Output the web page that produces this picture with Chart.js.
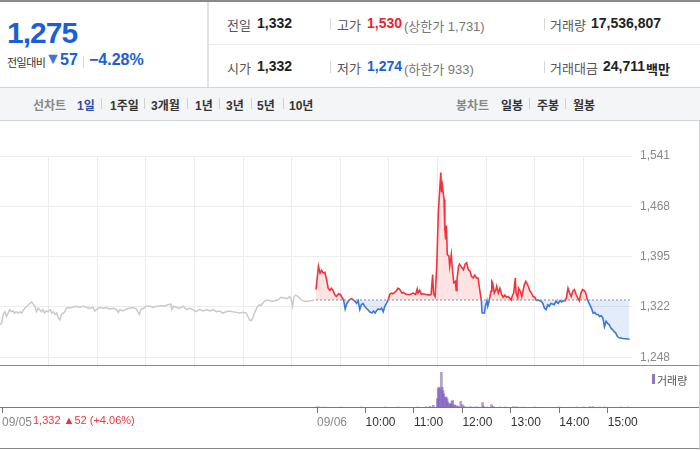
<!DOCTYPE html>
<html lang="ko">
<head>
<meta charset="utf-8">
<script src="https://cdn.jsdelivr.net/npm/chart.js@4.4.1/dist/chart.umd.min.js"></script>
<style>
  body { margin: 0; width: 700px; height: 450px; overflow: hidden; background: #fff;
         font-family: "Liberation Sans", "Noto Sans CJK KR", sans-serif; color: #333; }
  .abs { position: absolute; white-space: nowrap; }
  #topline { left: 0; top: 0; width: 700px; height: 2px; background: #8a8a8a; }
  #vdiv { left: 207px; top: 2px; width: 2px; height: 86px; background: #e2e2e2; }
  #hdiv { left: 209px; top: 44px; width: 491px; height: 1px; background: #ececec; }
  #toolbar { left: 0; top: 87px; width: 700px; height: 32px; background: #f4f5f7;
             border-top: 1px solid #d5d5d5; border-bottom: 1px solid #d5d5d5; }
  .big { font-size: 30px; font-weight: bold; color: #1a5fd9; letter-spacing: -1px; }
  .lbl { font-size: 13px; color: #555; }
  .val { font-size: 14px; font-weight: bold; color: #222; }
  .sub { font-size: 13px; color: #777; }
  .sep { width: 1px; height: 12px; background: #d8d8d8; }
  .tb { font-size: 12px; font-weight: bold; color: #333; }
  .tbg { font-size: 12px; color: #888; font-weight: bold; }
  .tsep { width: 1px; height: 11px; background: #d0d0d0; top: 98px; }
  #priceWrap { left: 0; top: 120px; width: 700px; height: 262px; }
  #volWrap { left: 0; top: 366px; width: 700px; height: 70px; }
  #sep1 { left: 0; top: 365px; width: 700px; height: 1px; background: #8c8c8c; }
  #sep2 { left: 0; top: 407px; width: 700px; height: 1px; background: #777; }
  #bottom { left: 0; top: 448px; width: 700px; height: 1px; background: #888; }
  #rightb { left: 699px; top: 120px; width: 1px; height: 330px; background: #d0d0d0; }
</style>
</head>
<body>
<div class="abs" id="topline"></div>

<!-- current price block -->
<div class="abs big" style="left:7px; top:16px;">1,275</div>
<div class="abs" style="left:7px; top:54px; font-size:11px; color:#333; letter-spacing:-0.5px;">전일대비</div>
<div class="abs" style="left:45px; top:50px; font-size:16px; color:#3d77d6;">▼</div>
<div class="abs" style="left:60px; top:51px; font-size:16px; font-weight:bold; color:#1a5fd9;">57</div>
<div class="abs sep" style="left:83px; top:56px;"></div>
<div class="abs" style="left:89px; top:51px; font-size:16px; font-weight:bold; color:#1a5fd9;">−4.28%</div>
<div class="abs" id="vdiv"></div>
<div class="abs" id="hdiv"></div>

<!-- summary rows -->
<div class="abs lbl" style="left:227px; top:15px;">전일</div>
<div class="abs val" style="left:257px; top:15px;">1,332</div>
<div class="abs sep" style="left:330px; top:18px;"></div>
<div class="abs lbl" style="left:337px; top:15px;">고가</div>
<div class="abs val" style="left:367px; top:15px; color:#f01e2c;">1,530</div>
<div class="abs sub" style="left:404px; top:16px;">(상한가 1,731)</div>
<div class="abs sep" style="left:544px; top:18px;"></div>
<div class="abs lbl" style="left:550px; top:15px;">거래량</div>
<div class="abs val" style="left:591px; top:15px;">17,536,807</div>

<div class="abs lbl" style="left:227px; top:58px;">시가</div>
<div class="abs val" style="left:257px; top:58px;">1,332</div>
<div class="abs sep" style="left:330px; top:61px;"></div>
<div class="abs lbl" style="left:337px; top:58px;">저가</div>
<div class="abs val" style="left:367px; top:58px; color:#1a5fd9;">1,274</div>
<div class="abs sub" style="left:404px; top:59px;">(하한가 933)</div>
<div class="abs sep" style="left:544px; top:61px;"></div>
<div class="abs lbl" style="left:550px; top:58px;">거래대금</div>
<div class="abs val" style="left:603px; top:58px;">24,711</div>
<div class="abs val" style="left:646px; top:59px; font-size:13px;">백만</div>

<!-- toolbar -->
<div class="abs" id="toolbar"></div>
<div class="abs tbg" style="left:33px; top:96px;">선차트</div>
<div class="abs tb" style="left:77px; top:96px; color:#2a4eb0;">1일</div>
<div class="abs tsep" style="left:101px;"></div>
<div class="abs tb" style="left:110px; top:96px;">1주일</div>
<div class="abs tsep" style="left:144px;"></div>
<div class="abs tb" style="left:151px; top:96px;">3개월</div>
<div class="abs tsep" style="left:187px;"></div>
<div class="abs tb" style="left:195px; top:96px;">1년</div>
<div class="abs tsep" style="left:219px;"></div>
<div class="abs tb" style="left:226px; top:96px;">3년</div>
<div class="abs tsep" style="left:251px;"></div>
<div class="abs tb" style="left:257px; top:96px;">5년</div>
<div class="abs tsep" style="left:283px;"></div>
<div class="abs tb" style="left:289px; top:96px;">10년</div>
<div class="abs tbg" style="left:456px; top:96px;">봉차트</div>
<div class="abs tb" style="left:501px; top:96px;">일봉</div>
<div class="abs tsep" style="left:529px;"></div>
<div class="abs tb" style="left:537px; top:96px;">주봉</div>
<div class="abs tsep" style="left:565px;"></div>
<div class="abs tb" style="left:573px; top:96px;">월봉</div>

<!-- charts -->
<div class="abs" id="priceWrap"><canvas id="priceChart"></canvas></div>
<div class="abs" id="volWrap"><canvas id="volumeChart"></canvas></div>
<div class="abs" id="sep1"></div>
<div class="abs" id="sep2"></div>
<div class="abs" id="bottom"></div>
<div class="abs" id="rightb"></div>

<div class="abs" style="left:652px; top:374px; width:3px; height:10px; background:#8f78c6;"></div>
<div class="abs" style="left:657px; top:372px; font-size:11px; color:#555;">거래량</div>
<div class="abs" style="left:33px; top:414px; font-size:11px; color:#f0343c;">1,332 ▲52 (+4.06%)</div>

<script>
// ── Data ──────────────────────────────────────────────
const prevClose = 1332;
const yTicks = [1248, 1322, 1395, 1468, 1541];

// 09/05 — minutes since 09:00, price
const prevMin = [0, 2, 4, 6, 8, 10, 12, 14, 16, 18, 20, 23, 25, 27, 29, 33, 37, 39, 41, 43, 45, 47, 49, 51, 53, 55, 57, 59, 62, 64, 66, 68, 70, 72, 74, 76, 78, 80, 82, 84, 86, 90, 94, 99, 103, 107, 111, 115, 117, 119, 123, 127, 131, 135, 140, 144, 146, 148, 152, 156, 160, 164, 168, 172, 174, 177, 181, 185, 189, 193, 195, 199, 203, 207, 211, 212, 214, 218, 222, 226, 230, 234, 238, 242, 246, 251, 255, 259, 263, 267, 271, 275, 279, 283, 287, 292, 296, 300, 304, 306, 308, 310, 312, 314, 316, 318, 320, 322, 324, 327, 331, 335, 339, 343, 347, 351, 355, 357, 359, 361, 363, 365, 368, 372, 376, 380, 384, 388];
const prevPrice = [1296, 1298, 1311, 1315, 1308, 1313, 1318, 1315, 1316, 1313, 1315, 1313, 1315, 1313, 1318, 1323, 1327, 1329, 1326, 1323, 1315, 1320, 1318, 1315, 1318, 1313, 1316, 1315, 1318, 1313, 1315, 1311, 1313, 1306, 1303, 1311, 1313, 1315, 1320, 1321, 1320, 1322, 1323, 1321, 1323, 1321, 1320, 1321, 1316, 1318, 1321, 1320, 1321, 1319, 1320, 1318, 1314, 1318, 1316, 1319, 1320, 1321, 1319, 1311, 1318, 1320, 1323, 1323, 1321, 1323, 1323, 1324, 1323, 1325, 1326, 1318, 1323, 1321, 1320, 1323, 1318, 1320, 1318, 1315, 1318, 1316, 1318, 1316, 1318, 1315, 1316, 1313, 1315, 1316, 1315, 1314, 1313, 1314, 1313, 1308, 1303, 1302, 1306, 1313, 1318, 1323, 1325, 1324, 1327, 1331, 1332, 1330, 1331, 1332, 1336, 1335, 1334, 1337, 1335, 1323, 1337, 1339, 1337, 1332, 1330, 1330, 1331, 1332];

// 09/06 — minutes since 09:00, price
const todayMin = [0, 3, 5, 7, 9, 11, 13, 15, 17, 19, 21, 23, 25, 28, 30, 32, 34, 36, 38, 40, 42, 44, 46, 48, 50, 52, 54, 56, 58, 60, 62, 64, 66, 69, 71, 73, 75, 77, 79, 81, 83, 85, 87, 89, 91, 93, 95, 97, 99, 101, 103, 106, 108, 110, 112, 116, 120, 123, 125, 126, 128, 130, 132, 136, 140, 142, 144, 145, 147, 149, 151, 152, 154, 155, 156, 158, 159, 160, 161, 162, 164, 165, 167, 168, 170, 172, 173, 174, 176, 177, 180, 182, 184, 186, 188, 190, 192, 194, 196, 198, 200, 202, 204, 205, 208, 209, 211, 212, 214, 216, 217, 218, 220, 222, 223, 225, 227, 229, 231, 233, 235, 237, 239, 241, 242, 244, 246, 247, 249, 250, 252, 254, 255, 257, 259, 262, 264, 266, 268, 270, 272, 274, 276, 278, 280, 282, 284, 286, 288, 290, 292, 294, 296, 299, 301, 303, 305, 307, 309, 311, 313, 315, 317, 319, 321, 323, 325, 327, 329, 331, 333, 335, 338, 340, 342, 344, 346, 348, 350, 352, 354, 356, 358, 360, 362, 364, 366, 368, 370, 372, 374, 379, 387];
const todayPrice = [1347, 1381, 1371, 1375, 1371, 1372, 1362, 1349, 1346, 1349, 1346, 1340, 1337, 1341, 1340, 1336, 1332, 1319, 1327, 1330, 1333, 1334, 1332, 1330, 1327, 1331, 1318, 1325, 1327, 1323, 1320, 1318, 1315, 1313, 1316, 1313, 1317, 1319, 1318, 1320, 1315, 1323, 1327, 1332, 1340, 1342, 1341, 1343, 1345, 1349, 1348, 1342, 1343, 1341, 1340, 1340, 1342, 1340, 1348, 1342, 1346, 1340, 1341, 1340, 1339, 1340, 1369, 1341, 1337, 1381, 1459, 1478, 1517, 1488, 1498, 1478, 1435, 1420, 1440, 1398, 1396, 1381, 1398, 1381, 1357, 1359, 1346, 1362, 1381, 1384, 1379, 1376, 1384, 1386, 1376, 1374, 1366, 1364, 1368, 1364, 1364, 1347, 1332, 1313, 1313, 1323, 1331, 1323, 1332, 1345, 1359, 1357, 1342, 1347, 1352, 1342, 1349, 1340, 1336, 1339, 1336, 1337, 1335, 1332, 1337, 1342, 1364, 1342, 1335, 1349, 1345, 1337, 1342, 1354, 1359, 1352, 1345, 1342, 1337, 1336, 1331, 1332, 1331, 1330, 1327, 1320, 1318, 1325, 1323, 1327, 1326, 1325, 1330, 1327, 1331, 1329, 1331, 1330, 1335, 1349, 1342, 1337, 1345, 1347, 1340, 1335, 1331, 1342, 1347, 1346, 1342, 1332, 1325, 1320, 1313, 1314, 1311, 1311, 1308, 1309, 1306, 1293, 1301, 1298, 1296, 1291, 1289, 1286, 1284, 1279, 1277, 1276, 1275];

// 09/06 volume — minutes since 09:00, thousand shares
const volMin = [0, 3, 10, 22, 30, 40, 55, 85, 100, 115, 125, 135, 140, 144, 149, 150, 151, 152, 154, 155, 156, 157, 159, 160, 161, 162, 164, 165, 166, 167, 168, 170, 171, 173, 175, 178, 180, 182, 186, 190, 194, 198, 205, 206, 210, 216, 218, 227, 233, 237, 243, 247, 255, 262, 270, 280, 300, 312, 322, 330, 338, 342, 350, 356, 365, 376, 385];
const volume = [43, 33, 33, 23, 33, 23, 33, 33, 33, 23, 33, 43, 56, 89, 307, 660, 693, 637, 1190, 693, 584, 472, 363, 363, 307, 198, 142, 142, 109, 221, 254, 109, 89, 66, 66, 221, 109, 66, 33, 43, 33, 43, 182, 56, 33, 109, 56, 33, 33, 23, 43, 43, 33, 23, 33, 23, 33, 23, 33, 33, 43, 43, 33, 33, 23, 33, 33];

// ── Helpers ───────────────────────────────────────────
const DAY = 390; // 09:00–15:30 in minutes
const red = "#f2333d";
const blue = "#3a78d6";
const hhmm = (m) => {
  const h = 9 + Math.floor(m / 60);
  return String(h).padStart(2, "0") + ":00";
};

// ── Price chart — previous day grey, today red/blue vs prev close ──
new Chart(document.getElementById("priceChart"), {
  type: "line",
  data: {
    datasets: [
      {
        label: "base",
        data: [{ x: DAY, y: prevClose }, { x: DAY * 2, y: prevClose }],
        borderColor: "#888",
        borderWidth: 1,
        borderDash: [2, 2],
        pointRadius: 0,
        fill: false,
      },
      {
        label: "09/06",
        data: todayMin.map((m, i) => ({ x: DAY + m, y: todayPrice[i] })),
        borderWidth: 1.6,
        pointRadius: 0,
        segment: {
          borderColor: (ctx) =>
            (ctx.p0.parsed.y + ctx.p1.parsed.y) / 2 >= prevClose ? red : blue,
        },
        borderColor: red,
        fill: {
          target: { value: prevClose },
          above: "rgba(250, 70, 80, 0.15)",
          below: "rgba(70, 130, 220, 0.15)",
        },
      },
      {
        label: "09/05",
        data: prevMin.map((m, i) => ({ x: m, y: prevPrice[i] })),
        borderColor: "#cacaca",
        borderWidth: 1.5,
        pointRadius: 0,
        fill: false,
      },
    ],
  },
  options: {
    responsive: true,
    maintainAspectRatio: false,
    animation: false,
    layout: { padding: { top: 36, bottom: 1, left: 0, right: 0 } },
    plugins: { legend: { display: false }, tooltip: { enabled: false } },
    elements: { line: { tension: 0 } },
    scales: {
      x: {
        type: "linear",
        min: 0,
        max: DAY * 2,
        ticks: { display: false, stepSize: 60 },
        grid: {
          color: (ctx) =>
            ctx.tick && (ctx.tick.value === DAY * 2 || ctx.tick.value === 0) ? "rgba(0,0,0,0)" : "#ececec",
          drawTicks: false,
        },
        border: { display: false },
        afterFit: (scale) => { scale.height = 0; },
      },
      y: {
        position: "right",
        min: 1235,
        max: 1541,
        afterBuildTicks: (scale) => { scale.ticks = yTicks.map((v) => ({ value: v })); },
        ticks: {
          color: "#888",
          padding: 8,
          font: { size: 12, family: "Liberation Sans" },
          callback: (v) => v.toLocaleString("en-US"),
        },
        grid: { color: "#ececec", drawTicks: false },
        border: { display: false },
        afterFit: (scale) => { scale.width = 68; },
      },
    },
  },
});

// ── Volume chart ──────────────────────────────────────
const xTicks = [0, DAY, DAY + 60, DAY + 120, DAY + 180, DAY + 240, DAY + 300, DAY + 360];

new Chart(document.getElementById("volumeChart"), {
  type: "bar",
  data: {
    datasets: [
      {
        label: "거래량",
        data: volMin.map((m, i) => ({ x: DAY + m, y: volume[i] })),
        backgroundColor: "rgba(125, 95, 185, 0.6)",
        barThickness: 2,
      },
    ],
  },
  options: {
    responsive: true,
    maintainAspectRatio: false,
    animation: false,
    layout: { padding: { top: 0, bottom: 0, left: 0, right: 68 } },
    plugins: { legend: { display: false }, tooltip: { enabled: false } },
    scales: {
      x: {
        type: "linear",
        offset: false,
        min: 0,
        max: DAY * 2,
        afterBuildTicks: (scale) => { scale.ticks = xTicks.map((v) => ({ value: v })); },
        ticks: {
          autoSkip: false,
          maxRotation: 0,
          align: "start",
          padding: 2,
          font: { size: 12, family: "Liberation Sans" },
          color: (ctx) => (ctx.tick.value <= DAY ? "#888" : "#333"),
          callback: (v) => (v === 0 ? "09/05" : v === DAY ? "09/06" : hhmm(v - DAY)),
        },
        grid: { offset: false, drawOnChartArea: false, tickLength: 5, color: "#777" },
        border: { display: false },
        afterFit: (scale) => { scale.height = 28; },
      },
      y: { display: false, min: 0, max: 1400 },
    },
  },
});
</script>
</body>
</html>
